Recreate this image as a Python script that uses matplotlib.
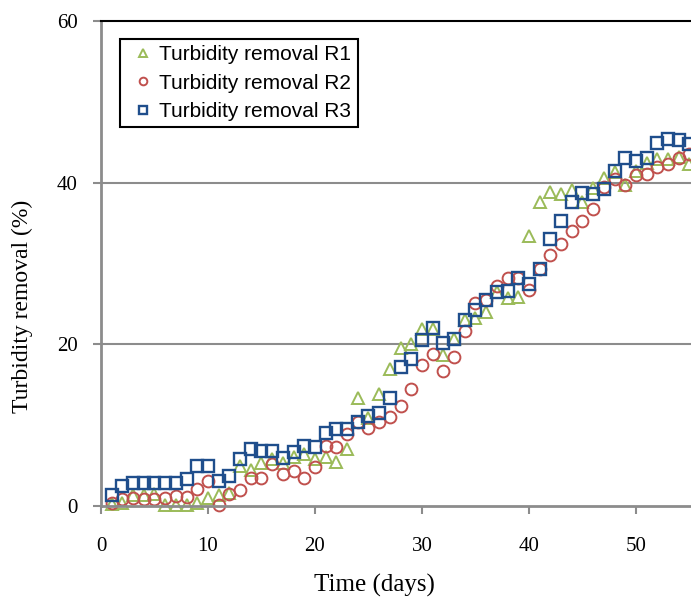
import matplotlib
matplotlib.use("Agg")
import matplotlib.pyplot as plt

days = list(range(1, 56))

r1 = [0.3, 0.4, 1.3, 1.3, 1.5, 0.1, 0.1, 0.1, 0.4, 1.0,
      1.3, 1.6, 4.9, 4.5, 5.3, 5.8, 5.3, 6.1, 6.4, 5.8,
      6.1, 5.5, 7.0, 13.3, 10.9, 13.8, 17.0, 19.5, 20.1, 21.9,
      21.9, 18.7, 20.7, 23.0, 23.3, 24.0, 26.5, 25.7, 25.9, 33.4,
      37.6, 38.8, 38.6, 39.1, 37.6, 39.4, 40.6, 41.3, 39.7, 41.4,
      42.4, 42.9, 42.9, 43.2, 42.3]

r2 = [0.4, 0.9, 1.0, 0.9, 0.9, 1.0, 1.2, 1.1, 2.1, 3.1,
      0.1, 1.5, 2.0, 3.5, 3.5, 5.2, 3.9, 4.3, 3.5, 4.8,
      7.4, 7.3, 8.9, 10.4, 9.7, 10.4, 11.0, 12.4, 14.5, 17.5,
      18.8, 16.7, 18.4, 21.7, 25.1, 25.5, 27.2, 28.2, 28.2, 26.7,
      29.3, 31.1, 32.4, 34.0, 35.3, 36.8, 39.5, 40.5, 39.7, 40.9,
      41.1, 42.0, 42.3, 43.0, 43.6]

r3 = [1.4, 2.5, 2.8, 2.8, 2.8, 2.8, 2.8, 3.3, 4.9, 4.9,
      3.1, 3.7, 5.8, 7.0, 6.8, 6.8, 5.9, 6.7, 7.4, 7.3,
      9.0, 9.5, 9.5, 10.4, 11.1, 11.5, 13.4, 17.2, 18.2, 20.5,
      22.0, 20.2, 20.7, 23.0, 24.3, 25.5, 26.5, 26.6, 28.2, 27.5,
      29.3, 33.0, 35.3, 37.6, 38.7, 38.6, 39.2, 41.5, 43.0, 42.7,
      43.0, 44.9, 45.4, 45.3, 44.8]

labels = ["Turbidity removal R1", "Turbidity removal R2", "Turbidity removal R3"]
xticks = [0, 10, 20, 30, 40, 50]
yticks = [0, 20, 40, 60]

fig = plt.figure(figsize=(6.91, 5.97), dpi=100)
ax = fig.add_axes([101/691, 1 - 506/597, 590/691, 485/597])

gray = "#8c8c8c"
ax.set_xlim(0, 55.15)
ax.set_ylim(0, 60)
ax.set_xticks(xticks)
ax.set_yticks(yticks)
for y in [20, 40]:
    ax.axhline(y, color=gray, lw=1.5, zorder=0)

ax.spines["right"].set_visible(False)
ax.spines["top"].set_color("black")
ax.spines["top"].set_linewidth(1.5)
for s in ["left", "bottom"]:
    ax.spines[s].set_color(gray)
    ax.spines[s].set_linewidth(2)

ax.tick_params(direction="out", length=6, width=1.5, color=gray, labelsize=15)
ax.tick_params(axis="x", pad=16)
ax.tick_params(axis="y", pad=11)
for lab in ax.get_xticklabels() + ax.get_yticklabels():
    lab.set_fontfamily("Liberation Serif")

ms = 8.5
mew = 1.4
ax.plot(days, r1, ls="none", marker="^", ms=ms, mfc="none", mec="#9BBB59",
        mew=mew, label=labels[0], clip_on=False)
ax.plot(days, r2, ls="none", marker="o", ms=ms, mfc="none", mec="#C0504D",
        mew=mew, label=labels[1], clip_on=False)
ax.plot(days, r3, ls="none", marker="s", ms=ms, mfc="none", mec="#1F4E8C",
        mew=mew + 0.3, label=labels[2], clip_on=False)

ax.set_ylabel("Turbidity removal (%)", fontfamily="Liberation Serif", fontsize=17)
ax.yaxis.set_label_coords(-0.115, 0.412)
ax.set_xlabel("Time (days)", fontfamily="Liberation Serif", fontsize=18)
ax.xaxis.set_label_coords(0.463, -0.140)

leg = ax.legend(loc="upper left", bbox_to_anchor=(0.032, 0.963), borderaxespad=0,
                prop={"family": "Liberation Sans", "size": 15},
                markerscale=0.65, handlelength=1.6, handletextpad=0.0,
                labelspacing=0.45, borderpad=0.3, fancybox=False, framealpha=1)
leg.get_frame().set_edgecolor("black")
leg.get_frame().set_linewidth(1.5)

fig.savefig("out.png", dpi=100)
